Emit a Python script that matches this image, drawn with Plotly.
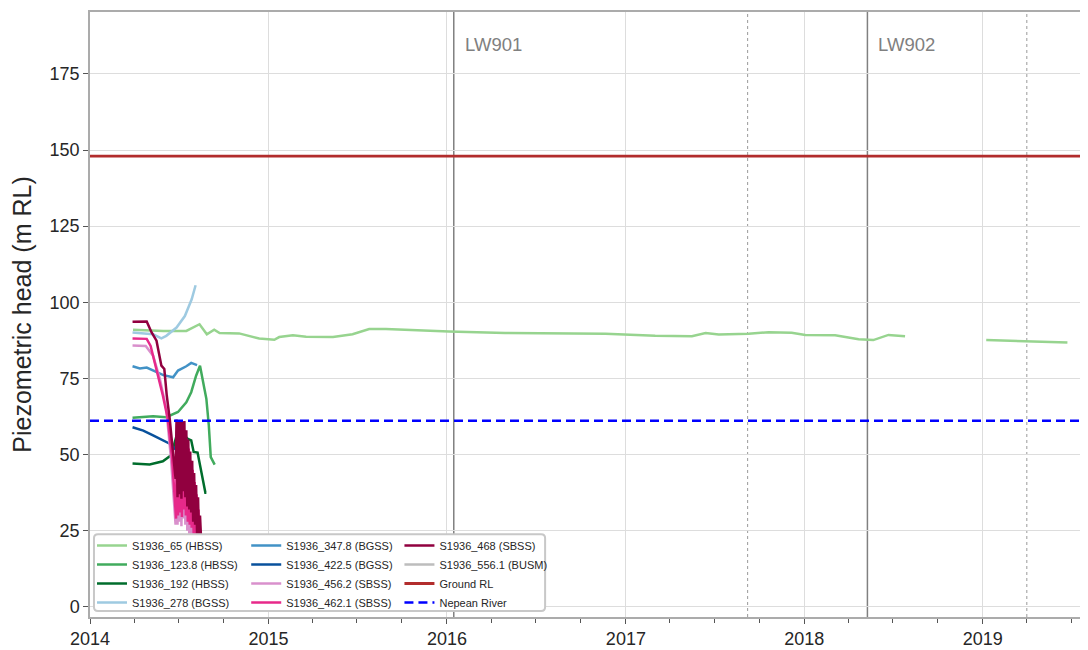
import plotly.graph_objects as go

# ---------------------------------------- data ----------------------------------------

s65_dates = ['2014-03-30', '2014-05-31', '2014-07-17', '2014-08-13', '2014-08-28', '2014-09-12',
             '2014-09-23', '2014-11-02', '2014-12-13', '2015-01-13', '2015-01-23', '2015-02-20',
             '2015-03-19', '2015-05-13', '2015-06-22', '2015-07-26', '2015-08-29', '2015-11-05',
             '2016-01-05', '2016-04-29', '2016-11-20', '2017-03-02', '2017-05-16', '2017-06-13',
             '2017-07-10', '2017-09-09', '2017-10-20', '2017-12-06', '2018-01-03', '2018-03-05',
             '2018-04-22', '2018-05-22', '2018-06-22', '2018-07-26', '2018-10-01',
             '2019-01-08', '2019-03-27', '2019-06-23']
s65_head = [91.0, 90.6, 90.6, 92.8, 89.5, 91.0,
            89.9, 89.8, 88.1, 87.7, 88.6, 89.2,
            88.7, 88.6, 89.5, 91.2, 91.2, 90.7,
            90.4, 89.9, 89.7, 89.0, 88.9, 89.9,
            89.4, 89.7, 90.2, 90.0, 89.3, 89.2,
            87.9, 87.6, 89.3, 88.9, None,
            87.6, 87.2, 86.8]

s123_dates = ['2014-03-29', '2014-05-10', '2014-06-06', '2014-06-30', '2014-07-17', '2014-07-27',
              '2014-08-06', '2014-08-14', '2014-08-23', '2014-08-27', '2014-09-01', '2014-09-05',
              '2014-09-13']
s123_head = [62.1, 62.6, 62.3, 64.0, 67.2, 70.5,
             75.9, 79.2, 71.6, 68.3, 59.6, 49.2,
             46.7]

s192_dates = ['2014-03-29', '2014-05-03', '2014-05-30', '2014-06-16', '2014-06-30', '2014-07-20',
              '2014-07-27', '2014-08-01', '2014-08-09', '2014-08-16', '2014-08-21', '2014-08-25',
              '2014-08-27']
s192_head = [47.1, 46.8, 47.8, 49.8, 57.9, 55.2,
             54.7, 50.9, 50.7, 45.4, 41.1, 37.5,
             37.5]

s278_dates = ['2014-03-29', '2014-05-10', '2014-05-27', '2014-06-06', '2014-06-27', '2014-07-14',
              '2014-07-28', '2014-08-05']
s278_head = [90.1, 89.5, 88.2, 89.0, 91.7, 95.5,
             101.0, 105.6]

s347_dates = ['2014-03-29', '2014-04-13', '2014-04-27', '2014-05-10', '2014-05-31', '2014-06-20',
              '2014-06-30', '2014-07-17', '2014-07-27', '2014-08-08']
s347_head = [79.0, 78.3, 78.6, 77.6, 76.1, 75.4,
             77.6, 79.0, 80.1, 79.4]

s422_dates = ['2014-03-29', '2014-04-20', '2014-05-10', '2014-05-31', '2014-06-13', '2014-06-23',
              '2014-07-05']
s422_head = [59.0, 57.9, 56.3, 54.7, 53.6, 52.0, 50.5]

s456_dates = ['2014-03-29', '2014-04-25', '2014-05-10', '2014-05-24', '2014-06-06', '2014-06-16',
              '2014-06-25', '2014-06-27', '2014-06-29', '2014-07-01', '2014-07-03', '2014-07-05',
              '2014-07-07', '2014-07-09', '2014-07-11', '2014-07-13', '2014-07-15', '2014-07-17',
              '2014-07-19', '2014-07-21', '2014-07-23', '2014-07-25', '2014-07-27', '2014-07-29',
              '2014-07-31', '2014-08-02', '2014-08-04', '2014-08-06', '2014-08-08', '2014-08-10',
              '2014-08-12']
s456_head = [85.8, 85.7, 82.5, 74.8, 65.0, 48.0,
             27.0, 58.0, 27.0, 58.0, 28.0, 57.0,
             26.5, 57.0, 29.0, 56.0, 27.0, 53.0,
             25.0, 50.0, 24.0, 46.0, 23.0, 43.0,
             21.0, 39.0, 19.0, 35.0, 17.0, 30.0,
             15.0]

s462_dates = ['2014-03-29', '2014-04-27', '2014-05-05', '2014-05-17', '2014-05-30', '2014-06-09',
              '2014-06-18', '2014-06-26', '2014-06-28', '2014-06-30', '2014-07-02', '2014-07-04',
              '2014-07-06', '2014-07-08', '2014-07-10', '2014-07-12', '2014-07-14', '2014-07-16',
              '2014-07-18', '2014-07-20', '2014-07-22', '2014-07-24', '2014-07-26', '2014-07-28',
              '2014-07-30', '2014-08-01', '2014-08-03', '2014-08-05', '2014-08-07', '2014-08-09',
              '2014-08-11', '2014-08-13']
s462_head = [88.1, 88.0, 85.7, 78.1, 69.4, 61.8,
             48.7, 29.0, 60.0, 30.0, 60.0, 31.0,
             59.5, 29.5, 59.0, 32.0, 58.0, 30.0,
             55.0, 28.0, 52.0, 27.0, 48.0, 26.0,
             45.0, 24.0, 41.0, 22.0, 37.0, 20.0,
             32.0, 18.0]

s468_dates = ['2014-03-29', '2014-04-27', '2014-05-07', '2014-05-17', '2014-05-27', '2014-06-02',
              '2014-06-07', '2014-06-13', '2014-06-19', '2014-06-25', '2014-06-27', '2014-06-29',
              '2014-07-01', '2014-07-03', '2014-07-05', '2014-07-07', '2014-07-09', '2014-07-11',
              '2014-07-13', '2014-07-15', '2014-07-17', '2014-07-19', '2014-07-21', '2014-07-23',
              '2014-07-25', '2014-07-27', '2014-07-29', '2014-07-31', '2014-08-02', '2014-08-04',
              '2014-08-06', '2014-08-08', '2014-08-10', '2014-08-12', '2014-08-14', '2014-08-16',
              '2014-08-18']
s468_head = [93.6, 93.7, 90.1, 87.4, 79.2, 78.1,
             69.4, 61.8, 52.0, 42.0, 61.5, 36.0,
             61.3, 37.0, 61.0, 35.5, 60.8, 38.0,
             61.0, 36.0, 58.0, 33.0, 55.0, 32.0,
             51.0, 31.0, 48.0, 28.0, 44.0, 27.0,
             40.0, 24.0, 36.0, 21.0, 30.0, 20.0,
             16.0]

# no readings visible for this piezometer in the period shown
s556_dates = [None]
s556_head = [None]

ground_dates = ['2014-01-01', '2019-07-29']
ground_rl = [148.0, 148.0]

river_dates = ['2014-01-01', '2019-07-29']
river_level = [61.1, 61.1]

# longwall start / end markers
lw_dates = ['2016-01-15', '2018-05-10']
lw_labels = ['LW901', 'LW902']
lw_end_dates = ['2017-09-07', '2019-04-01']

# ---------------------------------------- plot ----------------------------------------

series = [
    ('S1936_65 (HBSS)', s65_dates, s65_head, '#97d48f', 'legend'),
    ('S1936_123.8 (HBSS)', s123_dates, s123_head, '#41ab5d', 'legend'),
    ('S1936_192 (HBSS)', s192_dates, s192_head, '#006d2c', 'legend'),
    ('S1936_278 (BGSS)', s278_dates, s278_head, '#9ecae1', 'legend'),
    ('S1936_347.8 (BGSS)', s347_dates, s347_head, '#4292c6', 'legend2'),
    ('S1936_422.5 (BGSS)', s422_dates, s422_head, '#08519c', 'legend2'),
    ('S1936_456.2 (SBSS)', s456_dates, s456_head, '#d990cc', 'legend2'),
    ('S1936_462.1 (SBSS)', s462_dates, s462_head, '#e7298a', 'legend2'),
    ('S1936_468 (SBSS)', s468_dates, s468_head, '#91003f', 'legend3'),
    ('S1936_556.1 (BUSM)', s556_dates, s556_head, '#bdbdbd', 'legend3'),
]

fig = go.Figure()

for name, x, y, color, leg in series:
    fig.add_trace(go.Scatter(x=x, y=y, name=name, mode='lines', connectgaps=False,
                             line=dict(color=color, width=2.5), legend=leg))

fig.add_trace(go.Scatter(x=ground_dates, y=ground_rl, name='Ground RL', mode='lines',
                         line=dict(color='#b22d2d', width=2.8), legend='legend3'))
fig.add_trace(go.Scatter(x=river_dates, y=river_level, name='Nepean River', mode='lines',
                         line=dict(color='#0000ff', width=2.5, dash='9px,5px'), legend='legend3'))

for d, lab in zip(lw_dates, lw_labels):
    fig.add_vline(x=d, line_color='#808080', line_width=1.5, layer='below')
    fig.add_annotation(x=d, y=1.0, xref='x', yref='paper', text=lab, showarrow=False,
                       xanchor='left', yanchor='middle', xshift=9, yshift=-32,
                       font=dict(size=18.5, color='#808080'))
for d in lw_end_dates:
    fig.add_vline(x=d, line_color='#9a9a9a', line_width=1, line_dash='dot', layer='below')

# legend frame (rounded box)
x0, x1, y0, y1 = 0.004, 0.4574, 0.0099, 0.1367
rx, ry = 4 / 997, 4 / 607
path = (f'M{x0 + rx},{y0} L{x1 - rx},{y0} Q{x1},{y0} {x1},{y0 + ry} L{x1},{y1 - ry} '
        f'Q{x1},{y1} {x1 - rx},{y1} L{x0 + rx},{y1} Q{x0},{y1} {x0},{y1 - ry} '
        f'L{x0},{y0 + ry} Q{x0},{y0} {x0 + rx},{y0} Z')
fig.add_shape(type='path', path=path, xref='paper', yref='paper', layer='above',
              fillcolor='white', line=dict(color='#c8c8c8', width=2))

leg_font = dict(family='Liberation Sans, Arial', size=11, color='#262626')
leg_common = dict(bgcolor='rgba(0,0,0,0)', borderwidth=0, font=leg_font,
                  yanchor='bottom', y=0.0, xanchor='left', tracegroupgap=0)

fig.update_layout(
    width=1080, height=642,
    margin=dict(l=82, r=1, t=4, b=31),
    plot_bgcolor='white', paper_bgcolor='white',
    font=dict(family='Liberation Sans, Arial', color='#262626'),
    legend=dict(x=0.002, **leg_common),
    legend2=dict(x=0.157, **leg_common),
    legend3=dict(x=0.311, **leg_common),
    xaxis=dict(type='date', range=['2014-01-01', '2019-07-29'],
               dtick='M12', tickformat='%Y', tick0='2014-01-01',
               showgrid=True, gridcolor='#dddddd', gridwidth=1,
               ticks='outside', ticklen=5, tickcolor='#555555',
               minor=dict(dtick='M3', ticks='outside', ticklen=4, tickcolor='#555555', showgrid=False),
               showline=True, linecolor='#ababab', linewidth=1.5, mirror=True,
               tickfont=dict(size=18, color='#262626'), zeroline=False),
    yaxis=dict(range=[-3.3, 195.3], tick0=0, dtick=25,
               showgrid=True, gridcolor='#dddddd', gridwidth=1,
               ticks='outside', ticklen=5, tickcolor='#555555',
               showline=True, linecolor='#ababab', linewidth=1.5, mirror=True,
               tickfont=dict(size=18, color='#262626'), zeroline=False,
               title=dict(text='Piezometric head (m RL)', font=dict(size=25, color='#262626'),
                          standoff=20)),
)

fig.write_html("out.html")
